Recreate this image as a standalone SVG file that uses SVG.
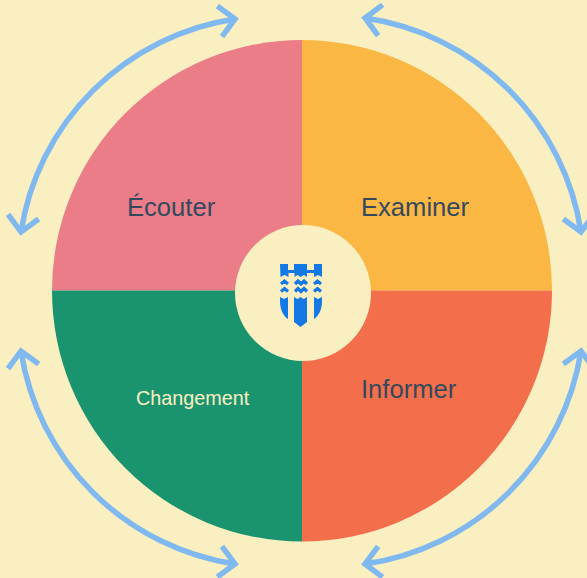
<svg xmlns="http://www.w3.org/2000/svg" width="587" height="578" viewBox="0 0 587 578">
<style>
.lbl{font-family:"Liberation Sans",Arial,sans-serif;font-size:25.6px;fill:#34495e}
.arr{fill:none;stroke:#7fb9f0;stroke-width:5.500;marker-start:url(#h);marker-end:url(#h)}
.sh{fill:#1479e4}
.wv{fill:none;stroke:#1479e4;stroke-width:3.2}
</style>
<defs>
<marker id="h" markerUnits="userSpaceOnUse" markerWidth="40" markerHeight="40" refX="20" refY="20" orient="auto-start-reverse" overflow="visible">
<path d="M4.500 4.500 L20 20 L4.500 35.500" fill="none" stroke="#7fb9f0" stroke-width="5.500"/>
</marker>
</defs>
<rect width="587" height="578" fill="#faefc0"/>
<g id="node-ecouter">
<path d="M302 290.500V40A250 250.500 0 0 0 52 290.500Z" fill="#eb7d89"/>
<text class="lbl" x="127" y="216">Écouter</text>
</g>
<g id="node-examiner">
<path d="M302 290.500V40A250 250.500 0 0 1 552 290.500Z" fill="#fbb744"/>
<text class="lbl" x="361" y="216">Examiner</text>
</g>
<g id="node-informer">
<path d="M302 290.500H552A250 251 0 0 1 302 541.500Z" fill="#f36e4a"/>
<text class="lbl" x="361" y="398">Informer</text>
</g>
<g id="node-changement">
<path d="M302 290.500V541.500A250 251 0 0 1 52 290.500Z" fill="#1a946f"/>
<text x="136" y="405" font-family="'Liberation Sans',Arial,sans-serif" font-size="19.800" fill="#faefc0">Changement</text>
</g>
<g id="node-center">
<circle cx="303" cy="293" r="68" fill="#faefc0"/>
<path class="sh" d="M280 264h8v6h6v-6h13v6h7v-6h8v13l-4-2-4 2v-4h-7v4l-3-2-3.500 2-3-2-3 2v-4h-6v4l-4-2-4 2Z"/>
<path class="sh" d="M294 297l3.500 2 3-2 3 2 3.500-2v25l-6.500 5-6.500-5Z"/>
<path class="sh" d="M280 297l4 2 4-2v22c-5-3-8-10-8-18Z"/>
<path class="sh" d="M322 297l-4 2-4-2v22c5-3 8-10 8-18Z"/>
<path class="wv" d="M281 284l3.500-3 3.500 3M281 291.500l3.500-3 3.500 3M295 284l3-3 3 3 3-3 3 3M295 291.500l3-3 3 3 3-3 3 3M314 284l3.500-3 3.500 3M314 291.500l3.500-3 3.500 3"/>
</g>
<g id="connectors">
<path class="arr" d="M235 19A255 255 0 0 0 21 232"/>
<path class="arr" d="M365 18A255 255 0 0 1 581 232"/>
<path class="arr" d="M581 351A255 255 0 0 1 365 564"/>
<path class="arr" d="M21 351A255 255 0 0 0 235 564"/>
</g>
</svg>
